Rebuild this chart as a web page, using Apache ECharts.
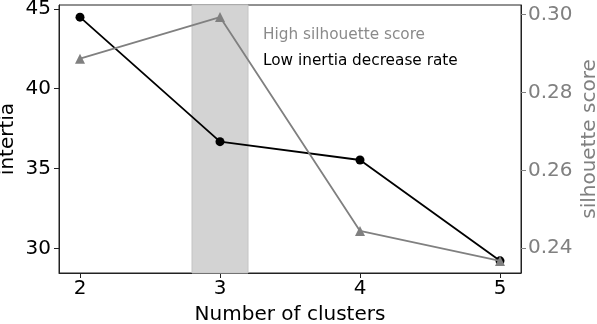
<!DOCTYPE html>
<html>
<head>
<meta charset="utf-8">
<script src="https://cdn.jsdelivr.net/npm/echarts@6/dist/echarts.min.js"></script>
<style>html,body{margin:0;padding:0;background:#fff}#c{width:597px;height:324px}</style>
</head>
<body>
<div id="c"></div>
<script>
const clusters = [2, 3, 4, 5];
const inertia = [44.48, 36.69, 35.54, 29.23];
const silhouette = [0.2887, 0.2994, 0.2444, 0.2367];
const xTicks = [2, 3, 4, 5];
const inertiaTicks = [30, 35, 40, 45];
const silTicks = [0.24, 0.26, 0.28, 0.30];
const band = [2.8, 3.2];
const legendLabels = ['High silhouette score', 'Low inertia decrease rate'];

const FONT = 'DejaVu Sans';
const chart = echarts.init(document.getElementById('c'), null, {renderer: 'canvas'});
chart.setOption({
  animation: false,
  backgroundColor: '#fff',
  textStyle: {fontFamily: FONT},
  grid: {left: 59, right: 76, top: 5, bottom: 51, show: true, borderColor: '#222', borderWidth: 1,
    backgroundColor: 'transparent', containLabel: false, outerBoundsMode: 'none'},
  legend: {
    orient: 'vertical', left: 248, top: 23, itemGap: 11, itemWidth: 5, itemHeight: 15,
    selectedMode: false,
    data: [
      {name: legendLabels[0], icon: 'none', textStyle: {color: '#8a8a8a', fontSize: 15.3, fontFamily: FONT}},
      {name: legendLabels[1], icon: 'none', textStyle: {color: '#000', fontSize: 15.3, fontFamily: FONT}}
    ]
  },
  xAxis: {
    type: 'value', min: 1.85, max: 5.15,
    name: 'Number of clusters', nameLocation: 'middle', nameGap: 32, nameMoveOverlap: false,
    nameTextStyle: {fontSize: 20, color: '#000', fontFamily: FONT},
    axisLine: {show: true, lineStyle: {color: '#222', width: 1}},
    axisTick: {show: true, length: 5, lineStyle: {color: '#222'}, customValues: xTicks},
    axisLabel: {fontSize: 20, color: '#000', margin: 6, customValues: xTicks, fontFamily: FONT},
    splitLine: {show: false}
  },
  yAxis: [{
    type: 'value', min: 28.47, max: 45.24, position: 'left',
    name: 'intertia', nameLocation: 'middle', nameGap: 41, nameRotate: 90, nameMoveOverlap: false,
    nameTextStyle: {fontSize: 20, color: '#000', fontFamily: FONT},
    axisLine: {show: true, lineStyle: {color: '#222'}},
    axisTick: {show: true, length: 5, lineStyle: {color: '#222'}, customValues: inertiaTicks},
    axisLabel: {fontSize: 20, color: '#000', margin: 8, customValues: inertiaTicks, fontFamily: FONT},
    splitLine: {show: false}
  }, {
    type: 'value', min: 0.2336, max: 0.3025, position: 'right',
    name: 'silhouette score', nameLocation: 'middle', nameGap: 59, nameRotate: 90, nameMoveOverlap: false,
    nameTextStyle: {fontSize: 20, color: '#808080', fontFamily: FONT},
    axisLine: {show: true, lineStyle: {color: '#222'}},
    axisTick: {show: true, length: 5, lineStyle: {color: '#808080'}, customValues: silTicks},
    axisLabel: {fontSize: 20, color: '#808080', margin: 7, customValues: silTicks, fontFamily: FONT,
      formatter: v => v.toFixed(2)},
    splitLine: {show: false}
  }],
  series: [{
    name: legendLabels[1], type: 'line', yAxisIndex: 0,
    data: clusters.map((c, i) => [c, inertia[i]]),
    symbol: 'circle', symbolSize: 9, showAllSymbol: true,
    lineStyle: {color: '#000', width: 1.8}, itemStyle: {color: '#000'},
    z: 3,
    markArea: {
      silent: true,
      itemStyle: {color: '#d3d3d3', borderColor: '#c4c4c4', borderWidth: 1},
      data: [[{xAxis: band[0]}, {xAxis: band[1]}]]
    }
  }, {
    name: legendLabels[0], type: 'line', yAxisIndex: 1,
    data: clusters.map((c, i) => [c, silhouette[i]]),
    symbol: 'triangle', symbolSize: 10, showAllSymbol: true,
    lineStyle: {color: '#808080', width: 1.8}, itemStyle: {color: '#808080'},
    z: 4
  }]
});
</script>
</body>
</html>
